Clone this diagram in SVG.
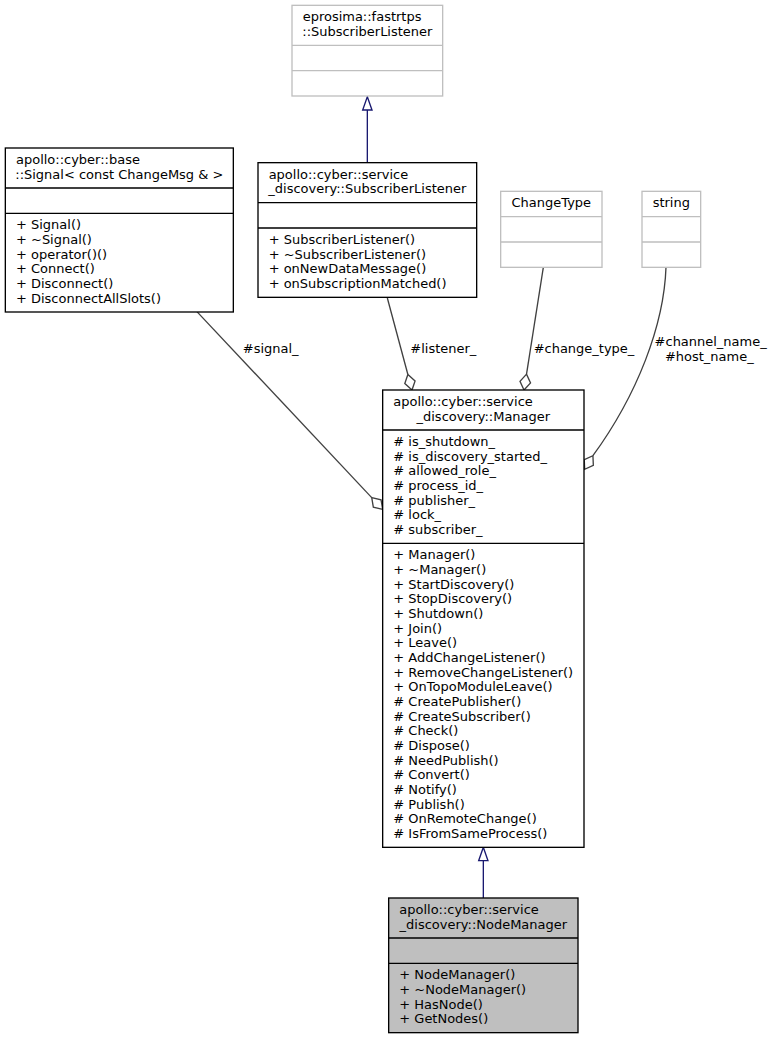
<svg xmlns="http://www.w3.org/2000/svg" width="773" height="1039" viewBox="0 0 773 1039">
<style>
text{font-family:"DejaVu Sans","Liberation Sans",sans-serif;font-size:9.75px;fill:#000}
.m{text-anchor:middle}
.bx{fill:#fff;stroke:#000;stroke-width:1}
.gx{fill:#fff;stroke:#bfbfbf;stroke-width:1}
.sel{fill:#bfbfbf;stroke:#000;stroke-width:1}
.sb{stroke:#000;fill:none}
.sg{stroke:#bfbfbf;fill:none}
.inh{stroke:#191970;fill:none}
.inhh{stroke:#191970;fill:#fff}
.use{stroke:#404040;fill:none}
.useh{stroke:#404040;fill:#fff}
</style>
<rect width="773" height="1039" fill="#fff"/>
<g transform="scale(1.33333) translate(4 4)">
<g id="connectors">
<path class="inh" d="M271.5,118L271.5,78.5"/>
<polygon class="inhh" points="275,78.5 271.5,68.5 268,78.5"/>
<path class="inh" d="M358.5,669.5L358.5,641.5"/>
<polygon class="inhh" points="362,641.5 358.5,631.5 355,641.5"/>
<path class="use" d="M143.5,229.5L274.8,369.2"/>
<polygon class="useh" points="283,378 276,376.4 274.8,369.2 281.8,370.9"/>
<text class="m" x="199" y="261">#signal_</text>
<path class="use" d="M286.5,219.5L301.9,276.9"/>
<polygon class="useh" points="305,288.5 299.6,283.7 301.9,276.9 307.3,281.7"/>
<text class="m" x="328.5" y="261">#listener_</text>
<path class="use" d="M403.5,196.5L390.9,276.6"/>
<polygon class="useh" points="389,288.5 386,282 390.9,276.6 393.9,283.2"/>
<text class="m" x="434" y="261">#change_type_</text>
<path class="use" d="M495.5,196.5C494,240 474,292 440.7,337.8"/>
<polygon class="useh" points="434.5,348 434.2,340.8 440.7,337.8 441,345"/>
<text class="m" x="529" y="255.5">#channel_name_</text>
<text class="m" x="528" y="266.5">#host_name_</text>
</g>
<g id="node_eprosima">
<rect class="gx" x="215" y="0" width="113" height="68"/>
<text x="223" y="12">eprosima::fastrtps</text>
<text class="m" x="271.5" y="23">::SubscriberListener</text>
<path class="sg" d="M215,30H328M215,49H328"/>
</g>
<g id="node_signal">
<rect class="bx" x="0" y="107" width="171" height="123"/>
<text x="8" y="119">apollo::cyber::base</text>
<text class="m" x="85.5" y="130">::Signal&lt; const ChangeMsg &amp; &gt;</text>
<path class="sb" d="M0,137H171M0,156H171"/>
<text x="8" y="168">+ Signal()</text>
<text x="8" y="179">+ ~Signal()</text>
<text x="8" y="190">+ operator()()</text>
<text x="8" y="201">+ Connect()</text>
<text x="8" y="212">+ Disconnect()</text>
<text x="8" y="223">+ DisconnectAllSlots()</text>
</g>
<g id="node_subscriberlistener">
<rect class="bx" x="189.5" y="118" width="164" height="101"/>
<text x="197.5" y="130">apollo::cyber::service</text>
<text class="m" x="271.5" y="141">_discovery::SubscriberListener</text>
<path class="sb" d="M189.5,148H353.5M189.5,167H353.5"/>
<text x="197.5" y="179">+ SubscriberListener()</text>
<text x="197.5" y="190">+ ~SubscriberListener()</text>
<text x="197.5" y="201">+ onNewDataMessage()</text>
<text x="197.5" y="212">+ onSubscriptionMatched()</text>
</g>
<g id="node_changetype">
<rect class="gx" x="371.5" y="139.5" width="76" height="57"/>
<text class="m" x="409.5" y="151.5">ChangeType</text>
<path class="sg" d="M371.5,158.5H447.5M371.5,177.5H447.5"/>
</g>
<g id="node_string">
<rect class="gx" x="477.5" y="139.5" width="44" height="57"/>
<text class="m" x="499.5" y="151.5">string</text>
<path class="sg" d="M477.5,158.5H521.5M477.5,177.5H521.5"/>
</g>
<g id="node_manager">
<rect class="bx" x="283" y="288.5" width="151" height="343"/>
<text x="291" y="300.5">apollo::cyber::service</text>
<text class="m" x="358.5" y="311.5">_discovery::Manager</text>
<path class="sb" d="M283,318.5H434M283,403.5H434"/>
<text x="291" y="330.5"># is_shutdown_</text>
<text x="291" y="341.5"># is_discovery_started_</text>
<text x="291" y="352.5"># allowed_role_</text>
<text x="291" y="363.5"># process_id_</text>
<text x="291" y="374.5"># publisher_</text>
<text x="291" y="385.5"># lock_</text>
<text x="291" y="396.5"># subscriber_</text>
<text x="291" y="415.5">+ Manager()</text>
<text x="291" y="426.5">+ ~Manager()</text>
<text x="291" y="437.5">+ StartDiscovery()</text>
<text x="291" y="448.5">+ StopDiscovery()</text>
<text x="291" y="459.5">+ Shutdown()</text>
<text x="291" y="470.5">+ Join()</text>
<text x="291" y="481.5">+ Leave()</text>
<text x="291" y="492.5">+ AddChangeListener()</text>
<text x="291" y="503.5">+ RemoveChangeListener()</text>
<text x="291" y="514.5">+ OnTopoModuleLeave()</text>
<text x="291" y="525.5"># CreatePublisher()</text>
<text x="291" y="536.5"># CreateSubscriber()</text>
<text x="291" y="547.5"># Check()</text>
<text x="291" y="558.5"># Dispose()</text>
<text x="291" y="569.5"># NeedPublish()</text>
<text x="291" y="580.5"># Convert()</text>
<text x="291" y="591.5"># Notify()</text>
<text x="291" y="602.5"># Publish()</text>
<text x="291" y="613.5"># OnRemoteChange()</text>
<text x="291" y="624.5"># IsFromSameProcess()</text>
</g>
<g id="node_nodemanager">
<rect class="sel" x="287.5" y="669.5" width="142" height="101"/>
<text x="295.5" y="681.5">apollo::cyber::service</text>
<text class="m" x="358.5" y="692.5">_discovery::NodeManager</text>
<path class="sb" d="M287.5,699.5H429.5M287.5,718.5H429.5"/>
<text x="295.5" y="730.5">+ NodeManager()</text>
<text x="295.5" y="741.5">+ ~NodeManager()</text>
<text x="295.5" y="752.5">+ HasNode()</text>
<text x="295.5" y="763.5">+ GetNodes()</text>
</g>
</g>
</svg>
